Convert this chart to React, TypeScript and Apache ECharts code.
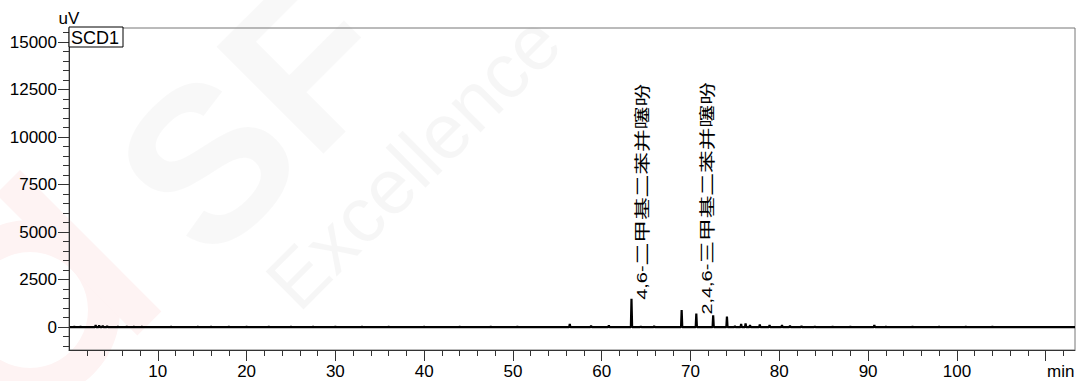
import React, { useEffect, useRef } from "react";
import * as echarts from "echarts";

// ---- data ----
const X_MIN = 0;
const X_MAX = 113.3;
const Y_MIN = -1200;
const Y_MAX = 15750;

const xMajorTicks = [10, 20, 30, 40, 50, 60, 70, 80, 90, 100, 110];
const xLabelValues = [10, 20, 30, 40, 50, 60, 70, 80, 90, 100];
const xMinorTicks = [2, 4, 6, 8, 12, 14, 16, 18, 22, 24, 26, 28, 32, 34, 36, 38, 42, 44, 46, 48, 52, 54, 56, 58, 62, 64, 66, 68, 72, 74, 76, 78, 82, 84, 86, 88, 92, 94, 96, 98, 102, 104, 106, 108, 112];
const yMajorTicks = [0, 2500, 5000, 7500, 10000, 12500, 15000];
const yMinorTicks = [-1000, -500, 500, 1000, 1500, 2000, 3000, 3500, 4000, 4500, 5500, 6000, 6500, 7000, 8000, 8500, 9000, 9500, 10500, 11000, 11500, 12000, 13000, 13500, 14000, 14500, 15500];

// retention time (min) and height (uV) of each visible peak
const peakTimes = [0.6, 1.3, 3.0, 3.4, 3.8, 4.3, 5.5, 6.5, 7.3, 8.2, 11.5, 14.5, 16.0, 18.0, 20.0, 22.5, 25.0, 27.5, 30.0, 33.0, 36.0, 40.0, 44.0, 47.5, 50.5, 56.4, 58.8, 60.8, 63.35, 64.4, 65.9, 69.0, 70.65, 72.55, 74.1, 75.0, 75.7, 76.2, 76.7, 77.8, 78.9, 80.3, 81.2, 82.5, 84.0, 86.0, 88.0, 90.7, 92.0, 95.0, 98.0, 101.0, 104.0];
const peakHeights = [40, 40, 110, 90, 80, 60, 40, 40, 30, 30, 30, 30, 30, 40, 30, 40, 30, 40, 40, 30, 30, 30, 30, 40, 40, 170, 80, 90, 1500, 50, 70, 900, 720, 620, 560, 60, 170, 200, 120, 140, 110, 120, 80, 60, 50, 40, 40, 120, 40, 40, 40, 40, 40];

const labelTimes = [63.35, 70.65];
const labelHeights = [1500, 720];
const labelLatin = ["4,6-", "2,4,6-"];
const labelCjk = ["二甲基二苯并噻吩", "三甲基二苯并噻吩"];

const FONT = "'Liberation Sans', Arial, sans-serif";

export default function App() {
  const ref = useRef<HTMLDivElement>(null);

  useEffect(() => {
    if (!ref.current) return;
    const chart = echarts.init(ref.current, null, { renderer: "svg" });

    const HW = 0.07;
    const line: number[][] = [[X_MIN + 0.1, 0]];
    peakTimes.forEach((t, i) => {
      line.push([t - HW, 0]);
      line.push([t, peakHeights[i]]);
      line.push([t + HW, 0]);
    });
    line.push([X_MAX, 0]);

    const axisColor = "#333";
    const plain = (v: number) => String(v);

    chart.setOption({
      animation: false,
      backgroundColor: "#fff",
      grid: {
        left: 69,
        right: 2,
        top: 28,
        bottom: 31,
        show: true,
        borderColor: "#777",
        borderWidth: 1,
        backgroundColor: "transparent",
        containLabel: false,
        outerBoundsMode: "none",
      },
      xAxis: [
        {
          type: "value",
          min: X_MIN,
          max: X_MAX,
          position: "bottom",
          axisLine: { show: true, onZero: false, lineStyle: { color: axisColor, width: 1 } },
          axisTick: { show: true, customValues: xMinorTicks, length: 6, lineStyle: { color: axisColor } },
          axisLabel: { show: false },
          splitLine: { show: false },
        },
        {
          type: "value",
          min: X_MIN,
          max: X_MAX,
          position: "bottom",
          axisLine: { show: false, onZero: false },
          axisTick: { show: true, customValues: xMajorTicks, length: 11, lineStyle: { color: axisColor } },
          axisLabel: { show: true, customValues: xLabelValues, formatter: plain, fontSize: 17, color: "#000", fontFamily: FONT, margin: 13 },
          splitLine: { show: false },
        },
      ],
      yAxis: [
        {
          type: "value",
          min: Y_MIN,
          max: Y_MAX,
          position: "left",
          name: "uV",
          nameLocation: "end",
          nameGap: 1,
          nameTextStyle: { fontSize: 17, color: "#000", fontFamily: FONT, align: "center", verticalAlign: "bottom" },
          axisLine: { show: true, onZero: false, lineStyle: { color: axisColor, width: 1 } },
          axisTick: { show: true, customValues: yMinorTicks, length: 6, lineStyle: { color: axisColor } },
          axisLabel: { show: false },
          splitLine: { show: false },
        },
        {
          type: "value",
          min: Y_MIN,
          max: Y_MAX,
          position: "left",
          axisLine: { show: false, onZero: false },
          axisTick: { show: true, customValues: yMajorTicks, length: 11, lineStyle: { color: axisColor } },
          axisLabel: { show: true, customValues: yMajorTicks, formatter: plain, fontSize: 17, color: "#000", fontFamily: FONT, margin: 12 },
          splitLine: { show: false },
        },
      ],
      graphic: [
        // faint watermark
        {
          type: "ring",
          z: -10,
          silent: true,
          shape: { cx: 30, cy: 310, r: 90, r0: 58 },
          style: { fill: "#fef3f3" },
        },
        {
          type: "rect",
          z: -10,
          silent: true,
          x: 20,
          y: 170,
          rotation: -Math.PI / 4,
          shape: { x: 0, y: 0, width: 200, height: 34 },
          style: { fill: "#fef3f3" },
        },
        {
          type: "text",
          z: -10,
          silent: true,
          x: 255,
          y: 115,
          rotation: Math.PI / 4,
          style: {
            text: "SF",
            fontSize: 220,
            fontWeight: "bold",
            fontFamily: FONT,
            fill: "rgba(0,0,0,0.028)",
            align: "center",
            verticalAlign: "middle",
          },
        },
        {
          type: "text",
          z: -10,
          silent: true,
          x: 280,
          y: 295,
          rotation: Math.PI / 4,
          style: {
            text: "Excellence",
            fontSize: 78,
            fontFamily: FONT,
            fill: "rgba(0,0,0,0.035)",
            align: "left",
            verticalAlign: "middle",
          },
        },
        // channel box
        {
          type: "rect",
          z: 20,
          shape: { x: 69, y: 27, width: 54, height: 20 },
          style: { fill: "#fff", stroke: "#000", lineWidth: 1 },
        },
        {
          type: "text",
          z: 21,
          x: 71,
          y: 37.5,
          style: { text: "SCD1", fontSize: 18, fontFamily: FONT, fill: "#000", align: "left", verticalAlign: "middle" },
        },
        {
          type: "text",
          z: 21,
          x: 1047,
          y: 363,
          style: { text: "min", fontSize: 17, fontFamily: FONT, fill: "#000", align: "left", verticalAlign: "top" },
        },
      ],
      series: [
        {
          type: "line",
          xAxisIndex: 0,
          yAxisIndex: 0,
          data: line,
          symbol: "none",
          lineStyle: { color: "#000", width: 2.2 },
          clip: true,
          z: 5,
        },
        {
          type: "custom",
          xAxisIndex: 0,
          yAxisIndex: 0,
          clip: false,
          z: 6,
          data: labelTimes.map((t, i) => [t, labelHeights[i], i]),
          renderItem: (params: any, api: any) => {
            const p = api.coord([api.value(0), api.value(1)]);
            const i = api.value(2);
            return {
              type: "text",
              x: p[0] + 10,
              y: p[1] + 1,
              rotation: Math.PI / 2,
              scaleX: 1.42,
              scaleY: 1,
              style: {
                text: "{a|" + labelLatin[i] + "}{b|" + labelCjk[i] + "}",
                rich: {
                  a: { fontSize: 14, fontFamily: FONT, fill: "#000", verticalAlign: "bottom" },
                  b: { fontSize: 16, fontFamily: "'Noto Sans CJK SC', sans-serif", fill: "#000", verticalAlign: "bottom" },
                },
                fill: "#000",
                align: "left",
                verticalAlign: "middle",
              },
            };
          },
        },
      ],
    });

    return () => chart.dispose();
  }, []);

  return (
    <div
      ref={ref}
      style={{ position: "fixed", left: 0, top: 0, width: 1077, height: 381, background: "#fff" }}
    />
  );
}
